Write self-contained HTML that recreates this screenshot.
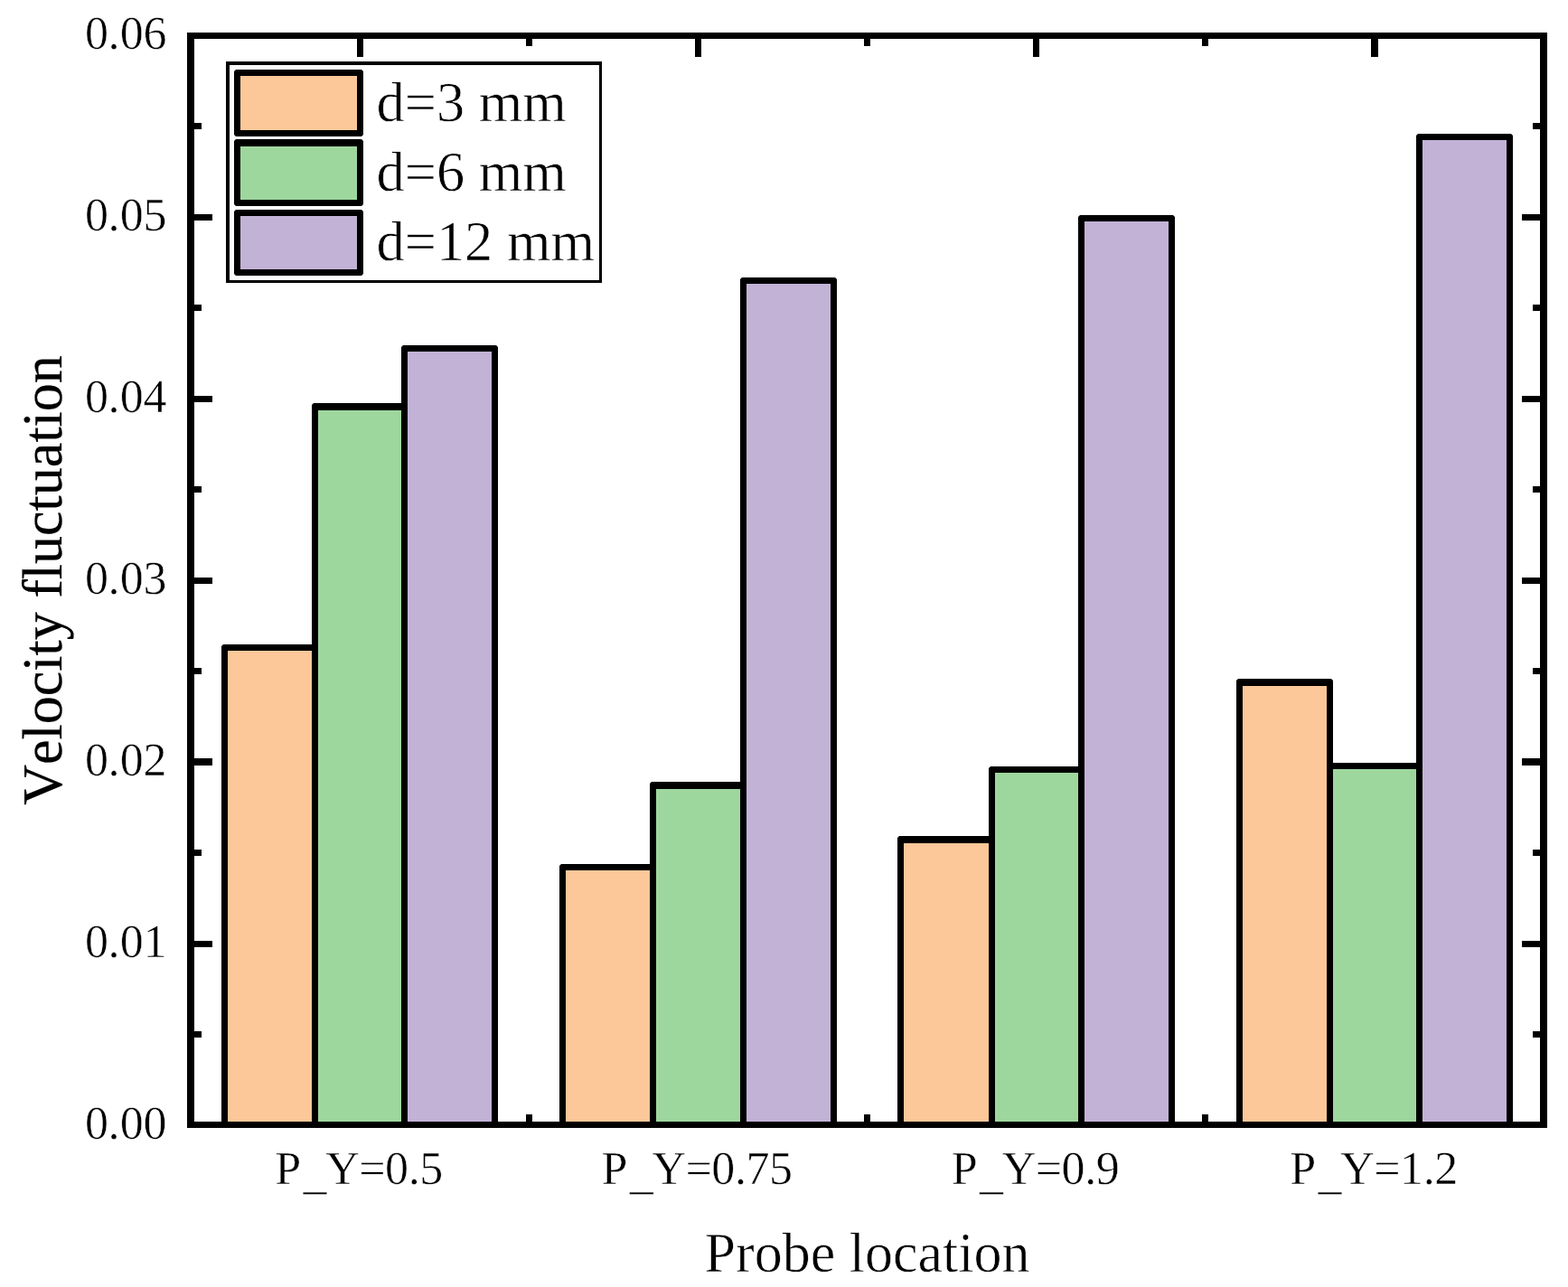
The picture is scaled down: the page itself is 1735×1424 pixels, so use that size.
<!DOCTYPE html>
<html lang="en"><head><meta charset="utf-8"><title>Velocity fluctuation vs probe location</title>
<style>
html,body{margin:0;padding:0;background:#fff;}
body{width:1735px;height:1424px;}
svg{display:block;}
text{font-family:"Liberation Serif","DejaVu Serif",serif;fill:#000;font-kerning:none;stroke:#fff;paint-order:fill stroke;stroke-linejoin:round;text-rendering:geometricPrecision;}
.tk{font-size:52px;stroke-width:0.5;}
.ti{font-size:62.5px;stroke-width:0.6;}
.lg{font-size:62.5px;stroke-width:0.6;}
</style></head><body>
<svg width="1735" height="1424" viewBox="0 0 1735 1424" role="img" aria-label="Grouped bar chart of velocity fluctuation versus probe location for d=3, 6 and 12 mm">
<rect x="0" y="0" width="1735" height="1424" fill="#fff"/>
<g shape-rendering="crispEdges">
<rect x="215" y="237" width="20" height="7" fill="#000"/>
<rect x="1684" y="237" width="20" height="7" fill="#000"/>
<rect x="215" y="438" width="20" height="7" fill="#000"/>
<rect x="1684" y="438" width="20" height="7" fill="#000"/>
<rect x="215" y="639" width="20" height="7" fill="#000"/>
<rect x="1684" y="639" width="20" height="7" fill="#000"/>
<rect x="215" y="839" width="20" height="8" fill="#000"/>
<rect x="1684" y="839" width="20" height="8" fill="#000"/>
<rect x="215" y="1041" width="20" height="7" fill="#000"/>
<rect x="1684" y="1041" width="20" height="7" fill="#000"/>
<rect x="215" y="136" width="8" height="7" fill="#000"/>
<rect x="1696" y="136" width="8" height="7" fill="#000"/>
<rect x="215" y="337" width="8" height="7" fill="#000"/>
<rect x="1696" y="337" width="8" height="7" fill="#000"/>
<rect x="215" y="538" width="8" height="7" fill="#000"/>
<rect x="1696" y="538" width="8" height="7" fill="#000"/>
<rect x="215" y="739" width="8" height="7" fill="#000"/>
<rect x="1696" y="739" width="8" height="7" fill="#000"/>
<rect x="215" y="940" width="8" height="7" fill="#000"/>
<rect x="1696" y="940" width="8" height="7" fill="#000"/>
<rect x="215" y="1141" width="8" height="7" fill="#000"/>
<rect x="1696" y="1141" width="8" height="7" fill="#000"/>
<rect x="395" y="43" width="7" height="20" fill="#000"/>
<rect x="395" y="1221" width="7" height="20" fill="#000"/>
<rect x="769" y="43" width="7" height="20" fill="#000"/>
<rect x="769" y="1221" width="7" height="20" fill="#000"/>
<rect x="1143" y="43" width="7" height="20" fill="#000"/>
<rect x="1143" y="1221" width="7" height="20" fill="#000"/>
<rect x="1517" y="43" width="8" height="20" fill="#000"/>
<rect x="1517" y="1221" width="8" height="20" fill="#000"/>
<rect x="582" y="43" width="7" height="8" fill="#000"/>
<rect x="582" y="1233" width="7" height="8" fill="#000"/>
<rect x="956" y="43" width="7" height="8" fill="#000"/>
<rect x="956" y="1233" width="7" height="8" fill="#000"/>
<rect x="1330" y="43" width="7" height="8" fill="#000"/>
<rect x="1330" y="1233" width="7" height="8" fill="#000"/>
</g>
<g>
<polygon points="245,1242 245,715 247,713 350,713 352,715 352,1242" fill="#000"/>
<rect x="252" y="720" width="93" height="522" fill="#FCC899" shape-rendering="crispEdges"/>
<polygon points="345,1242 345,448 347,446 449,446 451,448 451,1242" fill="#000"/>
<rect x="352" y="454" width="92" height="788" fill="#9ED79E" shape-rendering="crispEdges"/>
<polygon points="444,1242 444,384 446,382 549,382 551,384 551,1242" fill="#000"/>
<rect x="451" y="389" width="93" height="853" fill="#C2B2D6" shape-rendering="crispEdges"/>
<polygon points="619,1242 619,958 621,956 724,956 726,958 726,1242" fill="#000"/>
<rect x="626" y="963" width="93" height="279" fill="#FCC899" shape-rendering="crispEdges"/>
<polygon points="719,1242 719,867 721,865 824,865 826,867 826,1242" fill="#000"/>
<rect x="726" y="873" width="93" height="369" fill="#9ED79E" shape-rendering="crispEdges"/>
<polygon points="819,1242 819,309 821,307 924,307 926,309 926,1242" fill="#000"/>
<rect x="826" y="314" width="93" height="928" fill="#C2B2D6" shape-rendering="crispEdges"/>
<polygon points="993,1242 993,927 995,925 1099,925 1101,927 1101,1242" fill="#000"/>
<rect x="1000" y="933" width="94" height="309" fill="#FCC899" shape-rendering="crispEdges"/>
<polygon points="1094,1242 1094,850 1096,848 1198,848 1200,850 1200,1242" fill="#000"/>
<rect x="1101" y="855" width="92" height="387" fill="#9ED79E" shape-rendering="crispEdges"/>
<polygon points="1193,1242 1193,240 1195,238 1298,238 1300,240 1300,1242" fill="#000"/>
<rect x="1200" y="245" width="93" height="997" fill="#C2B2D6" shape-rendering="crispEdges"/>
<polygon points="1368,1242 1368,753 1370,751 1473,751 1475,753 1475,1242" fill="#000"/>
<rect x="1375" y="759" width="93" height="483" fill="#FCC899" shape-rendering="crispEdges"/>
<polygon points="1468,1242 1468,846 1470,844 1572,844 1574,846 1574,1242" fill="#000"/>
<rect x="1475" y="851" width="92" height="391" fill="#9ED79E" shape-rendering="crispEdges"/>
<polygon points="1567,1242 1567,150 1569,148 1672,148 1674,150 1674,1242" fill="#000"/>
<rect x="1574" y="155" width="93" height="1087" fill="#C2B2D6" shape-rendering="crispEdges"/>
</g>
<g shape-rendering="crispEdges">
<rect x="207" y="36" width="1505" height="7" fill="#000"/>
<rect x="207" y="1241" width="1505" height="7" fill="#000"/>
<rect x="207" y="36" width="8" height="1212" fill="#000"/>
<rect x="1704" y="36" width="8" height="1212" fill="#000"/>
</g>
<g shape-rendering="crispEdges">
<rect x="250" y="68" width="416" height="245" fill="#000"/>
<rect x="254" y="72" width="409" height="238" fill="#fff"/>
</g>
<polygon points="259,149 259,79 261,77 400,77 402,79 402,149 400,151 261,151" fill="#000"/>
<rect x="266" y="84" width="129" height="60" fill="#FCC899" shape-rendering="crispEdges"/>
<polygon points="259,226 259,156 261,154 400,154 402,156 402,226 400,228 261,228" fill="#000"/>
<rect x="266" y="162" width="129" height="59" fill="#9ED79E" shape-rendering="crispEdges"/>
<polygon points="259,303 259,234 261,232 400,232 402,234 402,303 400,305 261,305" fill="#000"/>
<rect x="266" y="239" width="129" height="59" fill="#C2B2D6" shape-rendering="crispEdges"/>
<text class="lg" x="416.5" y="134" textLength="210.3" lengthAdjust="spacingAndGlyphs" xml:space="preserve">d=3 mm</text>
<text class="lg" x="416.5" y="211" textLength="210.3" lengthAdjust="spacingAndGlyphs" xml:space="preserve">d=6 mm</text>
<text class="lg" x="416.5" y="288" textLength="241.5" lengthAdjust="spacingAndGlyphs" xml:space="preserve">d=12 mm</text>
<text class="tk" x="94.05 119.575 132.8 158.6" y="1260">0.00</text>
<text class="tk" x="94.05 119.575 132.8 158.6" y="1059">0.01</text>
<text class="tk" x="94.05 119.575 132.8 158.6" y="858">0.02</text>
<text class="tk" x="94.05 119.575 132.8 158.6" y="657">0.03</text>
<text class="tk" x="94.05 119.575 132.8 158.6" y="456">0.04</text>
<text class="tk" x="94.05 119.575 132.8 158.6" y="255">0.05</text>
<text class="tk" x="94.05 119.575 132.8 158.6" y="54">0.06</text>
<text class="tk" x="304.22 335.41 360.31 397.21 426.00 451.63 464.24" y="1310">P<tspan dy="5">_</tspan><tspan dy="-5">Y=0.5</tspan></text>
<text class="tk" x="665.47 696.66 721.56 758.46 787.25 812.88 825.50 850.99" y="1310">P<tspan dy="5">_</tspan><tspan dy="-5">Y=0.75</tspan></text>
<text class="tk" x="1052.72 1083.91 1108.81 1145.71 1174.50 1200.13 1212.75" y="1310">P<tspan dy="5">_</tspan><tspan dy="-5">Y=0.9</tspan></text>
<text class="tk" x="1427.22 1458.41 1483.31 1520.21 1549.00 1574.63 1587.25" y="1310">P<tspan dy="5">_</tspan><tspan dy="-5">Y=1.2</tspan></text>
<text class="ti" x="779.5" y="1407" textLength="359.9" lengthAdjust="spacingAndGlyphs">Probe location</text>
<text class="ti" style="stroke:#000;stroke-width:0.25" transform="translate(68,642) rotate(-90)" x="-248.85" y="0" textLength="497.7" lengthAdjust="spacingAndGlyphs">Velocity fluctuation</text>
</svg>
</body></html>
